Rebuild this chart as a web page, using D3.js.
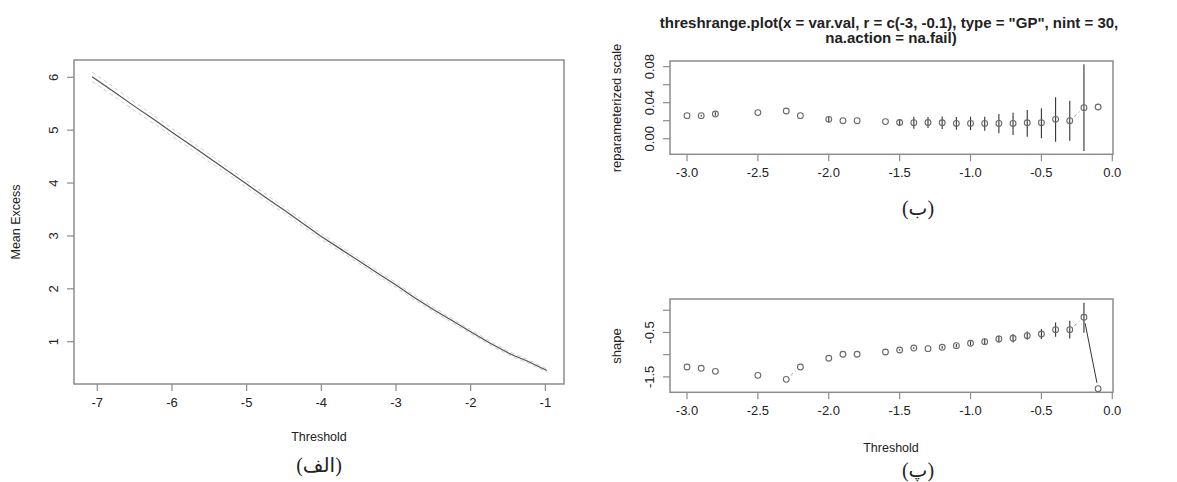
<!DOCTYPE html>
<html>
<head>
<meta charset="utf-8">
<script src="https://cdn.jsdelivr.net/npm/d3@7"></script>
<style>
  body { margin: 0; background: #fff; }
  svg text { font-family: "Liberation Sans", Arial, sans-serif; fill: #222; }
  .cap { font-family: "Liberation Serif", "DejaVu Sans", serif; }
</style>
</head>
<body>
<svg id="container" width="1177" height="482"></svg>
<script>
// mean excess plot (left)
const meThresh = [-7.07, -6.75, -6.5, -6.25, -6.0, -5.75, -5.5, -5.25, -5.0, -4.75, -4.5, -4.25,
                  -4.0, -3.75, -3.5, -3.25, -3.0, -2.75, -2.5, -2.25, -2.0, -1.75, -1.5, -1.4, -1.25, -0.98];
const meValue  = [6.01, 5.70, 5.45, 5.21, 4.96, 4.72, 4.475, 4.23, 3.98, 3.73, 3.49, 3.24,
                  2.99, 2.76, 2.53, 2.30, 2.07, 1.83, 1.61, 1.40, 1.19, 0.98, 0.79, 0.725, 0.64, 0.455];
const meHalf   = [0.09, 0.085, 0.08, 0.078, 0.075, 0.072, 0.07, 0.067, 0.064, 0.061, 0.058, 0.055,
                  0.052, 0.05, 0.048, 0.046, 0.044, 0.042, 0.04, 0.038, 0.036, 0.035, 0.033, 0.032, 0.031, 0.03];
const meXTicks = [-7, -6, -5, -4, -3, -2, -1];
const meYTicks = [1, 2, 3, 4, 5, 6];

// threshrange plot (right), nint = 30 thresholds, null = fit failed
const thresholds = [-3.0, -2.9, -2.8, -2.7, -2.6, -2.5, -2.4, -2.3, -2.2, -2.1, -2.0, -1.9, -1.8, -1.7, -1.6,
                    -1.5, -1.4, -1.3, -1.2, -1.1, -1.0, -0.9, -0.8, -0.7, -0.6, -0.5, -0.4, -0.3, -0.2, -0.1];
const scaleVal = [0.0256, 0.0256, 0.0274, null, null, 0.029, null, 0.0308, 0.0256, null, 0.0215, 0.020, 0.020, null, 0.019,
                  0.018, 0.0178, 0.018, 0.0177, 0.017, 0.017, 0.017, 0.017, 0.017, 0.0177, 0.0178, 0.0215, 0.020, 0.0345, 0.0352];
const scaleLow = [null, 0.0246, 0.0254, null, null, null, null, null, null, null, 0.0185, null, null, null, null,
                  0.015, 0.0111, 0.012, 0.0107, 0.010, 0.0095, 0.0089, 0.006, 0.0041, 0.0022, 0.0004, -0.0033, -0.0022, -0.0137, null];
const scaleUpp = [null, 0.0266, 0.0294, null, null, null, null, null, null, null, 0.0245, null, null, null, null,
                  0.021, 0.0245, 0.024, 0.0247, 0.024, 0.0245, 0.0244, 0.0274, 0.0289, 0.0319, 0.0338, 0.046, 0.0422, 0.0827, null];
const shapeVal = [-1.277, -1.307, -1.375, null, null, -1.465, null, -1.555, -1.277, null, -1.08, -0.99, -0.99, null, -0.94,
                  -0.894, -0.85, -0.864, -0.834, -0.796, -0.744, -0.706, -0.646, -0.631, -0.571, -0.534, -0.436, -0.436, -0.158, -1.766];
const shapeLow = [null, null, null, null, null, null, null, null, null, null, null, null, null, null, null,
                  -0.91, -0.87, null, -0.864, -0.831, -0.789, -0.776, -0.726, -0.726, -0.666, -0.644, -0.596, -0.636, -0.505, null];
const shapeUpp = [null, null, null, null, null, null, null, null, null, null, null, null, null, null, null,
                  -0.878, -0.83, null, -0.804, -0.761, -0.699, -0.636, -0.566, -0.536, -0.476, -0.424, -0.276, -0.236, 0.17, null];
const shapeSolidLink = [-0.2];
const rXTicks = [-3.0, -2.5, -2.0, -1.5, -1.0, -0.5, 0.0];
const scaleTicks = [0.00, 0.02, 0.04, 0.06, 0.08];
const scaleLabels = [0.00, 0.04, 0.08];
const shapeTicks = [-1.5, -1.0, -0.5, 0.0];
const shapeLabels = [-1.5, -0.5];

const title1 = 'threshrange.plot(x = var.val, r = c(-3, -0.1), type = "GP", nint = 30,';
const title2 = 'na.action = na.fail)';

const svg = d3.select("#container");
const boxCol = "#8c8c8c";
// R prints a plain hyphen for negative numbers
const loc = d3.formatLocale({decimal: ".", thousands: ",", grouping: [3], currency: ["$", ""], minus: "-"});

function frame(x, y, xTicks, xFmt, yTicks, yLabels, yFmt, tickSize) {
    const [x0, x1] = x.range(), [y1, y0] = y.range();
    const g = svg.append("g");
    g.append("rect").attr("x", x0).attr("y", y0).attr("width", x1 - x0).attr("height", y1 - y0)
        .attr("fill", "none").attr("stroke", boxCol).attr("stroke-width", 1.5);
    xTicks.forEach(t => {
        g.append("line").attr("x1", x(t)).attr("x2", x(t)).attr("y1", y1).attr("y2", y1 + 7)
            .attr("stroke", boxCol).attr("stroke-width", 1.2);
        g.append("text").attr("x", x(t)).attr("y", y1 + 7 + 16).attr("text-anchor", "middle")
            .style("font-size", tickSize + "px").text(xFmt(t));
    });
    yTicks.forEach(t => {
        g.append("line").attr("x1", x0 - 7).attr("x2", x0).attr("y1", y(t)).attr("y2", y(t))
            .attr("stroke", boxCol).attr("stroke-width", 1.2);
    });
    yLabels.forEach(t => {
        g.append("text").attr("transform", `translate(${x0 - 16},${y(t)}) rotate(-90)`)
            .attr("text-anchor", "middle").style("font-size", tickSize + "px").text(yFmt(t));
    });
    return g;
}

// ---- left panel
{
    const x = d3.scaleLinear().domain([-7.312, -0.75]).range([74, 564]);
    const y = d3.scaleLinear().domain([0.2, 6.327]).range([384, 60]);
    const g = frame(x, y, meXTicks, loc.format("d"), meYTicks, meYTicks, loc.format("d"), 13);
    const idx = d3.range(meThresh.length);
    const line = acc => d3.line().x(i => x(meThresh[i])).y(i => y(acc(i)))(idx);
    g.append("path").attr("d", line(i => meValue[i] + meHalf[i])).attr("fill", "none")
        .attr("stroke", "#d0d0d0").attr("stroke-dasharray", "4,3");
    g.append("path").attr("d", line(i => meValue[i] - meHalf[i])).attr("fill", "none")
        .attr("stroke", "#d0d0d0").attr("stroke-dasharray", "4,3");
    g.append("path").attr("d", line(i => meValue[i])).attr("fill", "none")
        .attr("stroke", "#555").attr("stroke-width", 1.2);
    svg.append("text").attr("x", 319).attr("y", 441).attr("text-anchor", "middle")
        .style("font-size", "12.5px").text("Threshold");
    svg.append("text").attr("transform", "translate(20,222) rotate(-90)").attr("text-anchor", "middle")
        .style("font-size", "12.5px").text("Mean Excess");
    svg.append("text").attr("class", "cap").attr("x", 319).attr("y", 472).attr("text-anchor", "middle")
        .style("font-size", "20px").text("(الف)");
}

// ---- right panels
function rangePanel(y, vals, low, upp, ticks, labels, yFmt, solid) {
    const x = d3.scaleLinear().domain([-3.12, 0.005]).range([670, 1113]);
    const g = frame(x, y, rXTicks, loc.format(".1f"), ticks, labels, yFmt, 13);
    // connecting lines with gaps around the points (type = "b")
    const gap = 6;
    for (let i = 0; i < thresholds.length - 1; i++) {
        if (vals[i] == null || vals[i + 1] == null) continue;
        const ax = x(thresholds[i]), ay = y(vals[i]), bx = x(thresholds[i + 1]), by = y(vals[i + 1]);
        const d = Math.hypot(bx - ax, by - ay);
        if (d - 2 * gap < 4) continue;
        const ux = (bx - ax) / d, uy = (by - ay) / d;
        const isSolid = solid.some(s => Math.abs(s - thresholds[i]) < 1e-9);
        g.append("line").attr("x1", ax + ux * gap).attr("y1", ay + uy * gap)
            .attr("x2", bx - ux * gap).attr("y2", by - uy * gap)
            .attr("stroke", isSolid ? "#333" : "#999").attr("stroke-width", 1)
            .attr("stroke-dasharray", isSolid ? null : "3,3");
    }
    thresholds.forEach((t, i) => {
        if (low[i] == null) return;
        g.append("line").attr("x1", x(t)).attr("x2", x(t)).attr("y1", y(low[i])).attr("y2", y(upp[i]))
            .attr("stroke", "#333").attr("stroke-width", 1.1);
    });
    thresholds.forEach((t, i) => {
        if (vals[i] == null) return;
        g.append("circle").attr("cx", x(t)).attr("cy", y(vals[i])).attr("r", 2.9)
            .attr("fill", "none").attr("stroke", "#6a6a6a").attr("stroke-width", 1.1);
    });
    return g;
}

rangePanel(d3.scaleLinear().domain([-0.0173, 0.0863]).range([154.3, 61]),
    scaleVal, scaleLow, scaleUpp, scaleTicks, scaleLabels, loc.format(".2f"), []);
rangePanel(d3.scaleLinear().domain([-1.847, 0.254]).range([392.3, 299]),
    shapeVal, shapeLow, shapeUpp, shapeTicks, shapeLabels, loc.format(".1f"), shapeSolidLink);

svg.append("text").attr("x", 889).attr("y", 28).attr("text-anchor", "middle")
    .style("font-size", "15px").style("font-weight", "bold").text(title1);
svg.append("text").attr("x", 891).attr("y", 43).attr("text-anchor", "middle")
    .style("font-size", "15px").style("font-weight", "bold").text(title2);
svg.append("text").attr("transform", "translate(621,108) rotate(-90)").attr("text-anchor", "middle")
    .style("font-size", "13px").text("reparameterized scale");
svg.append("text").attr("transform", "translate(621,346) rotate(-90)").attr("text-anchor", "middle")
    .style("font-size", "13px").text("shape");
svg.append("text").attr("x", 891).attr("y", 452).attr("text-anchor", "middle")
    .style("font-size", "12.5px").text("Threshold");
svg.append("text").attr("class", "cap").attr("x", 918).attr("y", 215).attr("text-anchor", "middle")
    .style("font-size", "20px").text("(ب)");
svg.append("text").attr("class", "cap").attr("x", 918).attr("y", 477).attr("text-anchor", "middle")
    .style("font-size", "20px").text("(پ)");
</script>
</body>
</html>
